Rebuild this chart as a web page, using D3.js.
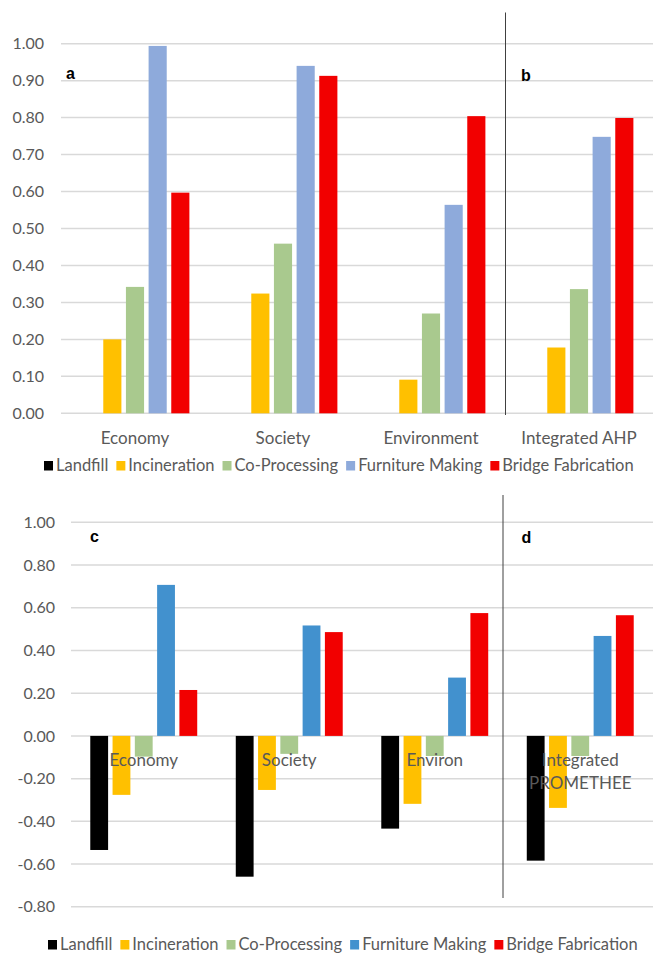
<!DOCTYPE html>
<html>
<head>
<meta charset="utf-8">
<script src="https://cdn.jsdelivr.net/npm/d3@7/dist/d3.min.js"></script>
<style>
  body { margin: 0; background: #fff; }
  text { font-family: Lato, "Open Sans", sans-serif; fill: #595959; }
  text.panel { font-family: "Liberation Sans", Arial, sans-serif; font-weight: bold; fill: #000; }
</style>
</head>
<body>
<svg id="chart" width="653" height="954"></svg>
<script>
const series = ['Landfill', 'Incineration', 'Co-Processing', 'Furniture Making', 'Bridge Fabrication']

// AHP scores (panels a, b)
const ahpCategories = ['Economy', 'Society', 'Environment', 'Integrated AHP']
const ahpLandfill = [0, 0, 0, 0]
const ahpIncineration = [0.20, 0.324, 0.091, 0.178]
const ahpCoProcessing = [0.342, 0.459, 0.27, 0.336]
const ahpFurniture = [0.994, 0.94, 0.564, 0.748]
const ahpBridge = [0.597, 0.913, 0.804, 0.799]
const ahpTicks = [0, 0.1, 0.2, 0.3, 0.4, 0.5, 0.6, 0.7, 0.8, 0.9, 1.0]

// PROMETHEE net flows (panels c, d)
const promCategories = ['Economy', 'Society', 'Environ', 'Integrated PROMETHEE']
const promLandfill = [-0.534, -0.659, -0.434, -0.584]
const promIncineration = [-0.276, -0.253, -0.318, -0.337]
const promCoProcessing = [-0.097, -0.084, -0.094, -0.094]
const promFurniture = [0.707, 0.517, 0.273, 0.468]
const promBridge = [0.215, 0.486, 0.575, 0.565]
const promTicks = [-0.8, -0.6, -0.4, -0.2, 0, 0.2, 0.4, 0.6, 0.8, 1.0]

const svg = d3.select('#chart')
const fmt = d => (Math.abs(d) < 1e-9 ? 0 : d).toFixed(2)

function drawPanel (cfg) {
  const g = svg.append('g')
  const rows = series.map((s, i) => ({ name: s, values: cfg.values[i], color: cfg.colors[i] }))

  const x = d3.scaleBand()
    .domain(cfg.categories)
    .range([cfg.left, cfg.right])
    .paddingInner(0.265)
    .paddingOuter(0.1325)

  const xs = d3.scaleBand()
    .domain(series)
    .range([0, x.bandwidth()])
    .paddingInner(0.2)

  const y = d3.scaleLinear()
    .domain(cfg.domain)
    .range([cfg.bottom, cfg.top])

  /* gridlines */
  g.append('g')
    .selectAll('line')
    .data(cfg.ticks)
    .enter().append('line')
    .attr('x1', cfg.left)
    .attr('x2', cfg.right)
    .attr('y1', d => y(d))
    .attr('y2', d => y(d))
    .attr('stroke', '#d9d9d9')
    .attr('stroke-width', 1.5)

  /* y tick labels */
  g.append('g')
    .selectAll('text')
    .data(cfg.ticks)
    .enter().append('text')
    .attr('x', cfg.labelX)
    .attr('y', d => y(d))
    .attr('dy', '0.35em')
    .attr('text-anchor', 'end')
    .style('font-size', '16px')
    .text(fmt)

  /* bars */
  rows.forEach(r => {
    g.append('g')
      .attr('fill', r.color)
      .selectAll('rect')
      .data(r.values.map((v, i) => ({ cat: cfg.categories[i], v })))
      .enter().append('rect')
      .attr('x', d => x(d.cat) + xs(r.name))
      .attr('width', xs.bandwidth())
      .attr('y', d => y(Math.max(0, d.v)))
      .attr('height', d => Math.abs(y(d.v) - y(0)))
  })

  /* category labels */
  const cat = g.append('g')
    .selectAll('text')
    .data(cfg.categories)
    .enter().append('text')
    .attr('text-anchor', 'middle')
    .attr('y', cfg.catY)
    .style('font-size', '17px')
  cat.each(function (d) {
    const lines = d.length > cfg.wrap ? d.split(' ') : [d]
    lines.forEach((l, i) => {
      d3.select(this).append('tspan')
        .attr('x', x(d) + x.bandwidth() / 2)
        .attr('dy', i === 0 ? 0 : 23)
        .text(l)
    })
  })

  /* divider between criteria and integrated result */
  g.append('line')
    .attr('x1', cfg.divX).attr('x2', cfg.divX)
    .attr('y1', cfg.divY[0]).attr('y2', cfg.divY[1])
    .attr('stroke', '#404040')
    .attr('stroke-width', 1)

  /* panel letters */
  cfg.letters.forEach(l => {
    g.append('text')
      .attr('class', 'panel')
      .attr('x', l.x)
      .attr('y', l.y)
      .style('font-size', '16px')
      .text(l.t)
  })

  /* legend, stretched to the reference's span */
  const lg = g.append('g').attr('transform', `translate(0,${cfg.legendY})`)
  let cx = cfg.legendX
  rows.forEach(r => {
    lg.append('rect')
      .attr('x', cx).attr('y', -10)
      .attr('width', 9).attr('height', 9.5)
      .attr('fill', r.color)
    const t = lg.append('text')
      .attr('x', cx + 12)
      .attr('y', 0)
      .style('font-size', '16.5px')
      .text(r.name)
    cx += 12 + t.node().getComputedTextLength() + 8
  })
}

drawPanel({
  categories: ahpCategories,
  values: [ahpLandfill, ahpIncineration, ahpCoProcessing, ahpFurniture, ahpBridge],
  colors: ['#000000', '#ffc000', '#a9c98e', '#8eaadb', '#f20000'],
  domain: [0, 1],
  ticks: ahpTicks,
  left: 61, right: 653, top: 43.7, bottom: 413.3,
  labelX: 44,
  catY: 444,
  wrap: 100,
  divX: 505.5, divY: [12.5, 415],
  letters: [{ t: 'a', x: 66, y: 79 }, { t: 'b', x: 521, y: 80.5 }],
  legendY: 471, legendX: 44
})

drawPanel({
  categories: promCategories,
  values: [promLandfill, promIncineration, promCoProcessing, promFurniture, promBridge],
  colors: ['#000000', '#ffc000', '#a9c98e', '#4291ce', '#f20000'],
  domain: [-0.8, 1],
  ticks: promTicks,
  left: 71, right: 653, top: 522.3, bottom: 906.8,
  labelX: 55,
  catY: 766,
  wrap: 14,
  divX: 503, divY: [495, 898],
  letters: [{ t: 'c', x: 90, y: 542 }, { t: 'd', x: 521.5, y: 543 }],
  legendY: 950, legendX: 48
})
</script>
</body>
</html>
